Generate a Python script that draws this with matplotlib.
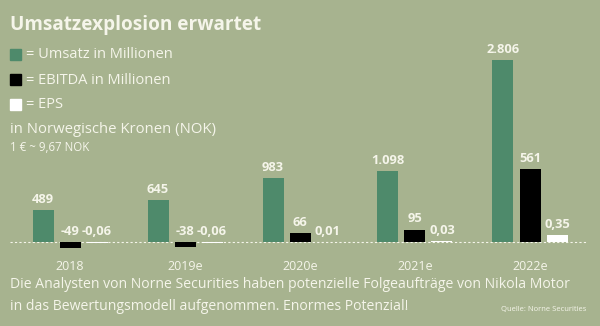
import matplotlib
matplotlib.use("Agg")
import matplotlib.pyplot as plt
import matplotlib.transforms as mtransforms

years = ["2018", "2019e", "2020e", "2021e", "2022e"]
umsatz = [489, 645, 983, 1098, 2806]
ebitda = [-49, -38, 66, 95, 561]
eps = [-0.06, -0.06, 0.01, 0.03, 0.35]

BG = "#a7b38f"
GREEN = "#4e8a6b"
BLACK = "#000000"
WHITE = "#ffffff"
TXT = "#f5f5ea"
FONT = ["Open Sans", "DejaVu Sans"]

W, H = 600, 326
fig = plt.figure(figsize=(W / 100, H / 100), dpi=100, facecolor=BG)


def fy(py):
    return 1 - py / H


# axes spans full width; baseline sits 242 px from the top
base_px = 242
bottom_px = 262
ax = fig.add_axes([0, fy(bottom_px), 1, (bottom_px) / H])
ax.set_facecolor("none")
ax2 = ax.twinx()
ax3 = ax.twinx()

# each series has its own vertical scale (units per pixel)
scales = [15.4, 7.7, 0.05]
axes = [ax, ax2, ax3]
for a, s in zip(axes, scales):
    a.set_ylim(-(bottom_px - base_px) * s, base_px * s)
    a.set_xlim(-70 / 115, (W - 70) / 115)
    a.axis("off")

offset = 27 / 115
width = 21 / 115
x = list(range(len(years)))


def fmt(v, decimals):
    if decimals == 0:
        s = f"{v:,.0f}".replace(",", ".")
    else:
        s = f"{v:.{decimals}f}".replace(".", ",")
    return s


series = [(ax, umsatz, GREEN, -offset, 0),
          (ax2, ebitda, BLACK, 0, 0),
          (ax3, eps, WHITE, offset, 2)]

for a, vals, col, off, dec in series:
    xs = [i + off for i in x]
    a.bar(xs, vals, width=width, color=col, zorder=3)
    for xi, v in zip(xs, vals):
        a.annotate(fmt(v, dec), (xi, max(v, 0)), xytext=(0, 3),
                   textcoords="offset points", ha="center", va="bottom",
                   color=TXT, fontsize=9.3, fontweight="bold", family=FONT)

ax.axhline(0, xmin=10 / W, xmax=587 / W, color=TXT, lw=0.8,
           ls=(0, (2, 2)), zorder=2)

trans = mtransforms.blended_transform_factory(ax.transData, fig.transFigure)
for i, y in zip(x, years):
    ax.text(i, fy(267), y, transform=trans, ha="center", va="center",
            color=TXT, fontsize=9, family=FONT)

# title and legend block
fig.text(10 / W, fy(25), "Umsatzexplosion erwartet", ha="left", va="center",
         color=TXT, fontsize=13.7, fontweight="bold", family=FONT)

legend = [(GREEN, "= Umsatz in Millionen", 55),
          (BLACK, "= EBITDA in Millionen", 80),
          (WHITE, "= EPS", 105)]
for col, label, py in legend:
    fig.patches.append(plt.Rectangle((10 / W, fy(py + 5)), 11 / W, 11 / H,
                                     transform=fig.transFigure,
                                     color=col, zorder=3))
    fig.text(26 / W, fy(py), label, ha="left", va="center", color=TXT,
             fontsize=10.5, family=FONT)

fig.text(10 / W, fy(130), "in Norwegische Kronen (NOK)", ha="left",
         va="center", color=TXT, fontsize=10.7, family=FONT)
fig.text(10 / W, fy(147), "1 € ~ 9,67 NOK", ha="left", va="center",
         color=TXT, fontsize=8.3, family=FONT)

fig.text(10 / W, fy(285),
         "Die Analysten von Norne Securities haben potenzielle Folgeaufträge von Nikola Motor",
         ha="left", va="center", color=TXT, fontsize=10.1, family=FONT)
fig.text(10 / W, fy(307),
         "in das Bewertungsmodell aufgenommen. Enormes Potenzial!",
         ha="left", va="center", color=TXT, fontsize=10.1, family=FONT)
fig.text(586 / W, fy(309), "Quelle: Norne Securities", ha="right",
         va="center", color=TXT, fontsize=5.5, family=FONT)

fig.savefig("out.png", dpi=100, facecolor=BG)
